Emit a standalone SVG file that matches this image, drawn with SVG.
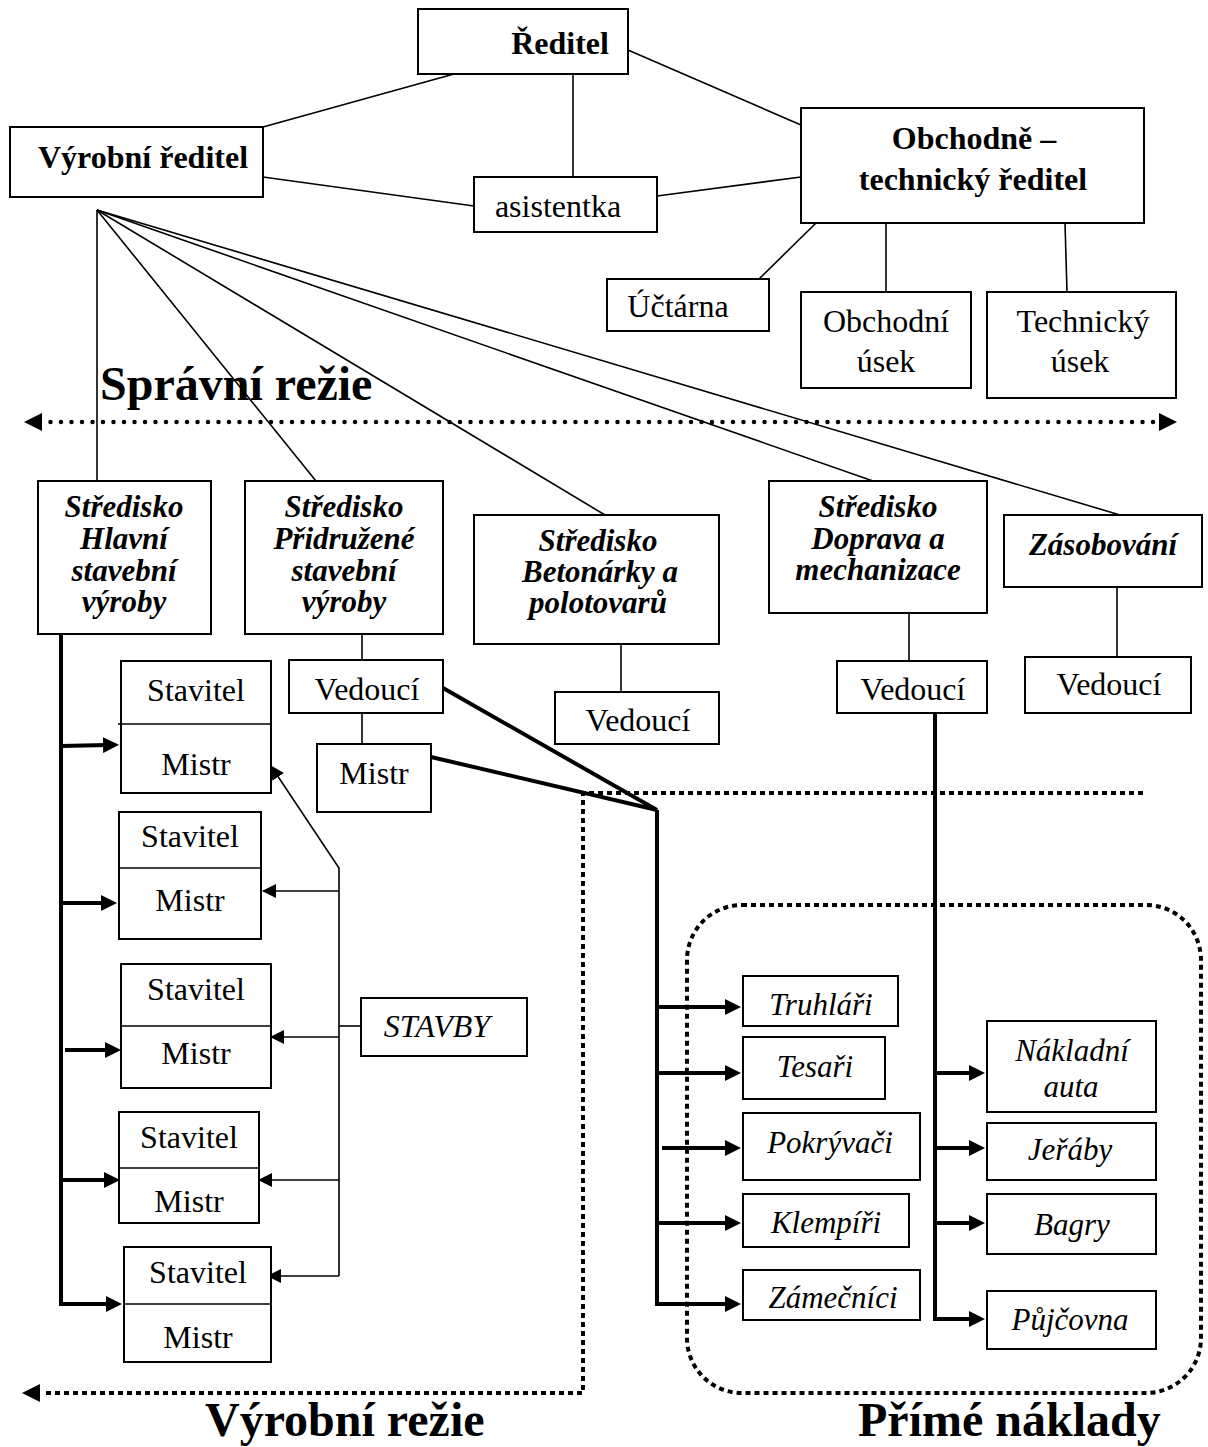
<svg xmlns="http://www.w3.org/2000/svg" width="1208" height="1447" viewBox="0 0 1208 1447">
<style>
.b{fill:#fff;stroke:#000;stroke-width:2}
.t{font-family:"Liberation Serif","Times New Roman",serif;font-size:32px;text-anchor:middle;fill:#000}
.bd{font-weight:bold}
.bi{font-weight:bold;font-style:italic;font-size:31px}
.it{font-style:italic;font-size:31px}
.big{font-family:"Liberation Serif","Times New Roman",serif;font-size:48px;font-weight:bold;fill:#000}
.ln{stroke:#000;stroke-width:1.6;fill:none}
.tk{stroke:#000;stroke-width:4;fill:none;stroke-linejoin:miter}
.dr{stroke:#000;fill:none;stroke-width:4.5;stroke-dasharray:0 10.5;stroke-linecap:round}
.ds{stroke:#000;fill:none;stroke-width:4;stroke-dasharray:5 4}
</style>
<defs>
<marker id="ah" markerUnits="userSpaceOnUse" markerWidth="16" markerHeight="16" refX="4" refY="8" orient="auto"><path d="M0,0 L16,8 L0,16 z" fill="#000"/></marker>
<marker id="as" markerUnits="userSpaceOnUse" markerWidth="14" markerHeight="14" refX="13" refY="7" orient="auto"><path d="M0,0 L14,7 L0,14 z" fill="#000"/></marker>
</defs>

<g id="labels">
<text class="big" x="100" y="400">Správní režie</text>
<text class="big" x="205" y="1436">Výrobní režie</text>
<text class="big" x="858" y="1436">Přímé náklady</text>
</g>

<g id="zones">
<line class="dr" x1="40" y1="422" x2="1162" y2="422"/>
<path d="M24,422 L42,413 L42,431 z" fill="#000"/>
<path d="M1177,422 L1159,413 L1159,431 z" fill="#000"/>
<path class="ds" d="M1143,793 H583 V1393 H42"/>
<path d="M22,1393 L40,1384 L40,1402 z" fill="#000"/>
<rect class="ds" x="687" y="905" width="514" height="488" rx="55" ry="55"/>
</g>

<g id="connectors">
<line class="ln" x1="454" y1="74" x2="263" y2="127"/>
<line class="ln" x1="573" y1="74" x2="573" y2="177"/>
<line class="ln" x1="628" y1="50" x2="801" y2="125"/>
<line class="ln" x1="263" y1="177" x2="474" y2="206"/>
<line class="ln" x1="657" y1="196" x2="801" y2="177"/>
<line class="ln" x1="816" y1="223" x2="759" y2="279"/>
<line class="ln" x1="886" y1="223" x2="886" y2="292"/>
<line class="ln" x1="1065" y1="223" x2="1067" y2="292"/>
<line class="ln" x1="97" y1="210" x2="97" y2="481"/>
<line class="ln" x1="97" y1="210" x2="316" y2="481"/>
<line class="ln" x1="97" y1="210" x2="605" y2="515"/>
<line class="ln" x1="97" y1="210" x2="873" y2="481"/>
<line class="ln" x1="97" y1="210" x2="1120" y2="515"/>
<line class="ln" x1="362" y1="634" x2="362" y2="660"/>
<line class="ln" x1="362" y1="713" x2="362" y2="744"/>
<line class="ln" x1="621" y1="644" x2="621" y2="692"/>
<line class="ln" x1="909" y1="613" x2="909" y2="661"/>
<line class="ln" x1="1117" y1="587" x2="1117" y2="657"/>
<path class="tk" d="M61,634 V1304 H110" marker-end="url(#ah)"/>
<line class="tk" x1="61" y1="746" x2="107" y2="745" marker-end="url(#ah)"/>
<line class="tk" x1="61" y1="903" x2="105" y2="903" marker-end="url(#ah)"/>
<line class="tk" x1="65" y1="1050" x2="109" y2="1050" marker-end="url(#ah)"/>
<line class="tk" x1="61" y1="1180" x2="108" y2="1180" marker-end="url(#ah)"/>
<polyline class="ln" points="339,1276 339,868 271,766" marker-end="url(#as)"/>
<line class="ln" x1="339" y1="891" x2="263" y2="891" marker-end="url(#as)"/>
<line class="ln" x1="339" y1="1037" x2="271" y2="1037" marker-end="url(#as)"/>
<line class="ln" x1="339" y1="1180" x2="259" y2="1180" marker-end="url(#as)"/>
<line class="ln" x1="339" y1="1276" x2="268" y2="1276" marker-end="url(#as)"/>
<line class="ln" x1="339" y1="1026" x2="361" y2="1026"/>
<polyline class="tk" points="443,688 657,810 431,757"/>
<path class="tk" d="M657,810 V1304 H729" marker-end="url(#ah)"/>
<line class="tk" x1="657" y1="1007" x2="729" y2="1007" marker-end="url(#ah)"/>
<line class="tk" x1="657" y1="1073" x2="729" y2="1073" marker-end="url(#ah)"/>
<line class="tk" x1="662" y1="1148" x2="729" y2="1148" marker-end="url(#ah)"/>
<line class="tk" x1="657" y1="1223" x2="729" y2="1223" marker-end="url(#ah)"/>
<path class="tk" d="M935,713 V1319 H973" marker-end="url(#ah)"/>
<line class="tk" x1="935" y1="1073" x2="973" y2="1073" marker-end="url(#ah)"/>
<line class="tk" x1="935" y1="1148" x2="973" y2="1148" marker-end="url(#ah)"/>
<line class="tk" x1="935" y1="1223" x2="973" y2="1223" marker-end="url(#ah)"/>
</g>

<g id="reditel"><rect class="b" x="418" y="9" width="210" height="65"/><text class="t bd" x="560" y="54">Ředitel</text></g>
<g id="vyrobni-reditel"><rect class="b" x="10" y="127" width="253" height="70"/><text class="t bd" x="143" y="168">Výrobní ředitel</text></g>
<g id="asistentka"><rect class="b" x="474" y="177" width="183" height="55"/><text class="t" x="558" y="217">asistentka</text></g>
<g id="obchodne-technicky"><rect class="b" x="801" y="108" width="343" height="115"/><text class="t bd" x="974" y="149">Obchodně –</text><text class="t bd" x="973" y="190">technický ředitel</text></g>
<g id="uctarna"><rect class="b" x="607" y="279" width="162" height="52"/><text class="t" x="678" y="317">Účtárna</text></g>
<g id="obchodni-usek"><rect class="b" x="801" y="292" width="170" height="96"/><text class="t" x="886" y="332">Obchodní</text><text class="t" x="886" y="372">úsek</text></g>
<g id="technicky-usek"><rect class="b" x="987" y="292" width="189" height="106"/><text class="t" x="1083" y="332">Technický</text><text class="t" x="1080" y="372">úsek</text></g>

<g id="str-hlavni"><rect class="b" x="38" y="481" width="173" height="153"/><text class="t bi" x="124" y="517">Středisko</text><text class="t bi" x="124" y="549">Hlavní</text><text class="t bi" x="124" y="581">stavební</text><text class="t bi" x="124" y="612">výroby</text></g>
<g id="str-pridruzene"><rect class="b" x="245" y="481" width="198" height="153"/><text class="t bi" x="344" y="517">Středisko</text><text class="t bi" x="344" y="549">Přidružené</text><text class="t bi" x="344" y="581">stavební</text><text class="t bi" x="344" y="612">výroby</text></g>
<g id="str-betonarky"><rect class="b" x="474" y="515" width="245" height="129"/><text class="t bi" x="598" y="551">Středisko</text><text class="t bi" x="600" y="582">Betonárky a</text><text class="t bi" x="598" y="613">polotovarů</text></g>
<g id="str-doprava"><rect class="b" x="769" y="481" width="218" height="132"/><text class="t bi" x="878" y="517">Středisko</text><text class="t bi" x="878" y="549">Doprava a</text><text class="t bi" x="878" y="580">mechanizace</text></g>
<g id="zasobovani"><rect class="b" x="1004" y="515" width="198" height="72"/><text class="t bi" x="1103" y="555">Zásobování</text></g>

<g id="vedouci-p"><rect class="b" x="289" y="660" width="154" height="53"/><text class="t" x="367" y="700">Vedoucí</text></g>
<g id="mistr-p"><rect class="b" x="317" y="744" width="114" height="68"/><text class="t" x="374" y="784">Mistr</text></g>
<g id="vedouci-b"><rect class="b" x="555" y="692" width="164" height="52"/><text class="t" x="638" y="731">Vedoucí</text></g>
<g id="vedouci-d"><rect class="b" x="837" y="661" width="150" height="52"/><text class="t" x="913" y="700">Vedoucí</text></g>
<g id="vedouci-z"><rect class="b" x="1025" y="657" width="166" height="56"/><text class="t" x="1109" y="695">Vedoucí</text></g>

<g id="sm1"><rect class="b" x="121" y="661" width="150" height="132"/><line class="ln" x1="118" y1="724" x2="271" y2="724" stroke-width="2"/><text class="t" x="196" y="701">Stavitel</text><text class="t" x="196" y="775">Mistr</text></g>
<g id="sm2"><rect class="b" x="119" y="812" width="142" height="127"/><line class="ln" x1="119" y1="868" x2="261" y2="868" stroke-width="2"/><text class="t" x="190" y="847">Stavitel</text><text class="t" x="190" y="911">Mistr</text></g>
<g id="sm3"><rect class="b" x="121" y="964" width="150" height="124"/><line class="ln" x1="121" y1="1026" x2="271" y2="1026" stroke-width="2"/><text class="t" x="196" y="1000">Stavitel</text><text class="t" x="196" y="1064">Mistr</text></g>
<g id="sm4"><rect class="b" x="119" y="1112" width="140" height="111"/><line class="ln" x1="119" y1="1168" x2="259" y2="1168" stroke-width="2"/><text class="t" x="189" y="1148">Stavitel</text><text class="t" x="189" y="1212">Mistr</text></g>
<g id="sm5"><rect class="b" x="124" y="1247" width="147" height="115"/><line class="ln" x1="124" y1="1304" x2="271" y2="1304" stroke-width="2"/><text class="t" x="198" y="1283">Stavitel</text><text class="t" x="198" y="1348">Mistr</text></g>
<g id="stavby"><rect class="b" x="361" y="998" width="166" height="58"/><text class="t" x="437" y="1037" font-style="italic">STAVBY</text></g>

<g id="truhlari"><rect class="b" x="743" y="976" width="155" height="50"/><text class="t it" x="821" y="1015">Truhláři</text></g>
<g id="tesari"><rect class="b" x="743" y="1037" width="142" height="62"/><text class="t it" x="815" y="1077">Tesaři</text></g>
<g id="pokryvaci"><rect class="b" x="743" y="1113" width="177" height="67"/><text class="t it" x="830" y="1153">Pokrývači</text></g>
<g id="klempiri"><rect class="b" x="743" y="1194" width="166" height="53"/><text class="t it" x="826" y="1233">Klempíři</text></g>
<g id="zamecnici"><rect class="b" x="743" y="1270" width="177" height="50"/><text class="t it" x="833" y="1308">Zámečníci</text></g>
<g id="nakladni-auta"><rect class="b" x="987" y="1021" width="169" height="91"/><text class="t it" x="1072" y="1061">Nákladní</text><text class="t it" x="1071" y="1097">auta</text></g>
<g id="jeraby"><rect class="b" x="987" y="1123" width="169" height="57"/><text class="t it" x="1070" y="1160">Jeřáby</text></g>
<g id="bagry"><rect class="b" x="987" y="1194" width="169" height="60"/><text class="t it" x="1072" y="1235">Bagry</text></g>
<g id="pujcovna"><rect class="b" x="987" y="1291" width="169" height="58"/><text class="t it" x="1070" y="1330">Půjčovna</text></g>
</svg>
